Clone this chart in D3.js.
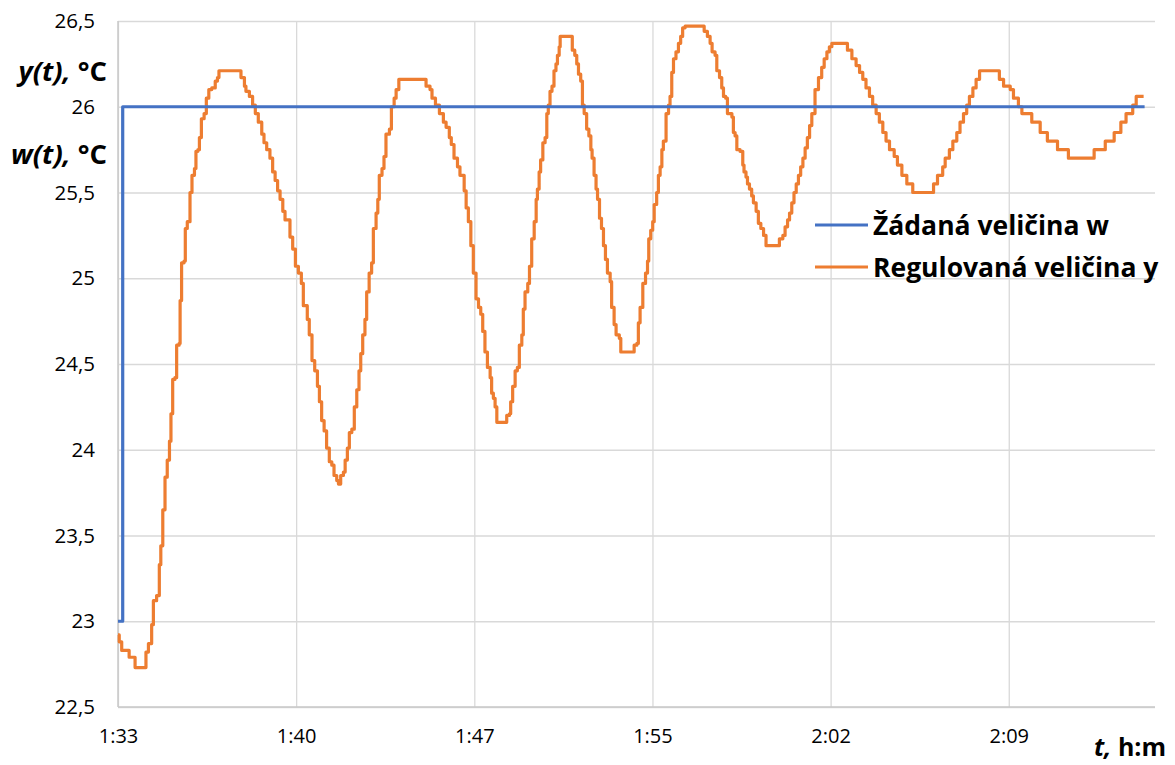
<!DOCTYPE html>
<html>
<head>
<meta charset="utf-8">
<script src="https://cdn.jsdelivr.net/npm/d3@7"></script>
<style>
  html, body { margin: 0; padding: 0; background: #ffffff; }
  svg { display: block; font-family: "Open Sans", "Noto Sans", sans-serif; }
</style>
</head>
<body>
<svg id="chart" width="1175" height="765"></svg>
<script>
// ---- data (time in minutes after 1:33) ----
const xTickValues = [0, 7.2, 14.4, 21.6, 28.8, 36.0];
const xTickLabels = ["1:33", "1:40", "1:47", "1:55", "2:02", "2:09"];
const yTickValues = [22.5, 23, 23.5, 24, 24.5, 25, 25.5, 26, 26.5];
const yTickLabels = ["22,5", "23", "23,5", "24", "24,5", "25", "25,5", "26", "26,5"];

const seriesNames = ["Žádaná veličina w", "Regulovaná veličina y"];
const seriesColors = ["#4472C4", "#ED7D31"];

// setpoint w(t)
const wTimes = [0, 0.19, 41.49];
const wValues = [23, 26, 26];

// controlled variable y(t)
const yTimes = [
  0.00,0.05,0.15,0.45,0.69,1.13,1.23,1.36,1.43,1.56,1.67,1.73,1.81,1.90,1.99,2.08,2.14,2.21,2.30,2.37,
  2.47,2.51,2.57,2.67,2.72,2.80,2.91,2.99,3.09,3.15,3.23,3.29,3.37,3.48,3.57,3.67,3.79,3.93,4.02,4.08,
  4.97,5.11,5.17,5.31,5.44,5.55,5.67,5.81,5.90,6.01,6.14,6.25,6.35,6.45,6.55,6.66,6.75,6.95,7.06,7.17,
  7.29,7.41,7.49,7.65,7.73,7.84,7.95,8.06,8.14,8.23,8.33,8.43,8.54,8.64,8.73,8.84,8.91,9.00,9.11,9.18,
  9.27,9.35,9.45,9.55,9.65,9.74,9.81,9.89,9.98,10.05,10.15,10.25,10.32,10.43,10.50,10.56,10.67,10.75,10.83,10.97,
  11.05,11.16,11.24,11.35,12.45,12.61,12.69,12.83,12.99,13.15,13.26,13.39,13.47,13.58,13.72,13.82,13.99,14.07,14.16,14.26,
  14.36,14.47,14.57,14.66,14.74,14.83,14.93,15.04,15.10,15.17,15.24,15.31,15.71,15.82,15.87,15.95,16.05,16.14,16.22,16.32,
  16.38,16.45,16.56,16.63,16.72,16.82,16.90,16.95,17.02,17.08,17.17,17.26,17.33,17.39,17.46,17.54,17.62,17.70,17.76,17.83,
  17.87,18.36,18.46,18.54,18.61,18.70,18.77,18.84,18.94,19.03,19.11,19.16,19.24,19.32,19.38,19.46,19.54,19.62,19.70,19.78,
  19.89,19.95,20.05,20.13,20.26,20.32,20.86,20.97,21.03,21.10,21.21,21.32,21.40,21.45,21.53,21.61,21.67,21.77,21.84,21.91,
  21.98,22.04,22.15,22.25,22.31,22.38,22.45,22.55,22.65,22.74,22.82,22.92,23.69,23.82,23.93,24.01,24.13,24.20,24.31,24.40,
  24.47,24.56,24.63,24.81,24.87,24.94,25.01,25.14,25.25,25.30,25.38,25.44,25.52,25.61,25.68,25.79,25.88,25.98,26.09,26.19,
  26.73,26.87,26.96,27.06,27.14,27.23,27.32,27.41,27.50,27.59,27.68,27.77,27.86,27.95,28.04,28.17,28.31,28.44,28.54,28.65,
  28.75,28.85,29.48,29.66,29.83,29.97,30.10,30.23,30.37,30.50,30.64,30.77,30.91,31.04,31.18,31.37,31.50,31.68,31.88,32.12,
  32.96,33.12,33.33,33.43,33.60,33.74,33.90,34.03,34.17,34.30,34.41,34.55,34.68,34.82,35.62,35.79,36.06,36.19,36.39,36.53,
  36.93,37.27,37.56,37.97,38.41,39.45,39.90,40.26,40.53,40.74,41.01,41.15,41.45
];
const yValues = [
  22.92,22.88,22.83,22.79,22.73,22.82,22.87,22.98,23.12,23.15,23.33,23.44,23.65,23.84,23.94,24.05,24.21,24.41,24.42,24.61,
  24.62,24.87,25.09,25.10,25.29,25.33,25.50,25.60,25.64,25.74,25.75,25.82,25.93,25.96,26.05,26.10,26.11,26.15,26.17,26.21,
  26.17,26.12,26.09,26.06,26.01,25.96,25.91,25.84,25.79,25.75,25.70,25.62,25.57,25.51,25.46,25.39,25.34,25.24,25.17,25.07,
  25.03,24.97,24.84,24.76,24.67,24.52,24.46,24.37,24.28,24.17,24.11,24.01,23.93,23.91,23.85,23.82,23.80,23.85,23.87,23.94,
  24.01,24.10,24.12,24.25,24.35,24.46,24.56,24.67,24.76,24.92,25.03,25.09,25.29,25.38,25.46,25.60,25.64,25.71,25.84,25.87,
  26.00,26.05,26.10,26.16,26.12,26.10,26.05,26.01,25.96,25.91,25.88,25.82,25.78,25.70,25.65,25.60,25.51,25.41,25.33,25.19,
  25.03,24.88,24.83,24.79,24.69,24.57,24.48,24.42,24.33,24.30,24.25,24.16,24.20,24.21,24.28,24.37,24.46,24.48,24.61,24.67,
  24.82,24.92,24.97,25.07,25.23,25.33,25.46,25.52,25.62,25.69,25.79,25.82,25.96,26.01,26.09,26.12,26.21,26.25,26.30,26.35,
  26.41,26.33,26.30,26.25,26.19,26.15,26.01,25.96,25.87,25.83,25.75,25.70,25.60,25.52,25.46,25.35,25.29,25.19,25.11,25.03,
  24.98,24.83,24.73,24.67,24.65,24.57,24.61,24.62,24.74,24.83,24.97,25.03,25.10,25.23,25.28,25.33,25.43,25.50,25.60,25.65,
  25.75,25.80,25.96,26.01,26.06,26.20,26.28,26.32,26.37,26.41,26.46,26.47,26.44,26.41,26.37,26.32,26.30,26.21,26.17,26.11,
  26.06,26.05,25.96,25.94,25.85,25.83,25.75,25.74,25.66,25.62,25.59,25.55,25.52,25.48,25.44,25.39,25.32,25.29,25.25,25.19,
  25.23,25.25,25.30,25.34,25.38,25.44,25.50,25.55,25.60,25.65,25.70,25.76,25.82,25.89,25.96,26.10,26.17,26.23,26.28,26.32,
  26.35,26.37,26.33,26.28,26.24,26.20,26.16,26.11,26.06,26.01,25.96,25.91,25.85,25.80,25.75,25.71,25.66,25.60,25.55,25.50,
  25.55,25.60,25.65,25.70,25.75,25.80,25.85,25.91,25.96,26.01,26.06,26.11,26.16,26.21,26.16,26.12,26.10,26.05,26.00,25.96,
  25.91,25.85,25.80,25.75,25.70,25.75,25.80,25.85,25.91,25.96,26.01,26.06,26.06
];

// ---- layout ----
const svg = d3.select("#chart");
const plot = { left: 118, right: 1155, top: 21, bottom: 707 };

const x = d3.scaleLinear().domain([0, 41.91]).range([plot.left, plot.right]);
const y = d3.scaleLinear().domain([22.5, 26.5]).range([plot.bottom, plot.top]);

// horizontal gridlines
const yGrid = svg.append("g")
  .attr("transform", `translate(${plot.left},0)`)
  .call(d3.axisLeft(y).tickValues(yTickValues).tickSize(-(plot.right - plot.left)).tickFormat(""));
yGrid.select(".domain").remove();
yGrid.selectAll(".tick line").attr("stroke", "#D9D9D9").attr("stroke-width", 1.3);

// vertical gridlines
const xGrid = svg.append("g")
  .attr("transform", `translate(0,${plot.bottom})`)
  .call(d3.axisBottom(x).tickValues(xTickValues).tickSize(-(plot.bottom - plot.top)).tickFormat(""));
xGrid.select(".domain").remove();
xGrid.selectAll(".tick line").attr("stroke", "#D9D9D9").attr("stroke-width", 1.3);

// axis lines
svg.append("line").attr("x1", plot.left).attr("x2", plot.left).attr("y1", plot.top).attr("y2", plot.bottom)
  .attr("stroke", "#C8C8C8").attr("stroke-width", 1.5);
svg.append("line").attr("x1", plot.left).attr("x2", plot.right).attr("y1", plot.bottom).attr("y2", plot.bottom)
  .attr("stroke", "#C8C8C8").attr("stroke-width", 1.5);

// y tick labels
const yAxis = svg.append("g")
  .attr("transform", `translate(${plot.left},0)`)
  .call(d3.axisLeft(y).tickValues(yTickValues).tickSize(0).tickPadding(23)
    .tickFormat((d, i) => yTickLabels[i]));
yAxis.select(".domain").remove();
yAxis.selectAll("text").attr("font-family", "'Open Sans', sans-serif").attr("font-size", 20.5).attr("fill", "#000");

// x tick labels
const xAxis = svg.append("g")
  .attr("transform", `translate(0,${plot.bottom})`)
  .call(d3.axisBottom(x).tickValues(xTickValues).tickSize(0).tickPadding(22)
    .tickFormat((d, i) => xTickLabels[i]));
xAxis.select(".domain").remove();
xAxis.selectAll("text").attr("font-family", "'Open Sans', sans-serif").attr("font-size", 20).attr("fill", "#000");

// series lines
const wData = wTimes.map((t, i) => [t, wValues[i]]);
const yData = yTimes.map((t, i) => [t, yValues[i]]);
const line = d3.line().x(d => x(d[0])).y(d => y(d[1])).curve(d3.curveStepAfter);

svg.append("path").datum(yData).attr("d", line)
  .attr("fill", "none").attr("stroke", seriesColors[1]).attr("stroke-width", 3.2).attr("stroke-linejoin", "round");
svg.append("path").datum(wData).attr("d", line)
  .attr("fill", "none").attr("stroke", seriesColors[0]).attr("stroke-width", 3.2).attr("stroke-linejoin", "round");

// axis titles
const yT1 = svg.append("text").attr("x", 107).attr("y", 81).attr("text-anchor", "end")
  .attr("font-size", 27.5).attr("font-weight", "bold").attr("fill", "#000");
yT1.append("tspan").attr("font-style", "italic").text("y(t),");
yT1.append("tspan").text(" °C");
const yT2 = svg.append("text").attr("x", 107).attr("y", 164).attr("text-anchor", "end")
  .attr("font-size", 27.5).attr("font-weight", "bold").attr("fill", "#000");
yT2.append("tspan").attr("font-style", "italic").text("w(t),");
yT2.append("tspan").text(" °C");
const xT = svg.append("text").attr("x", 1166).attr("y", 756).attr("text-anchor", "end")
  .attr("font-size", 25).attr("font-weight", "bold").attr("fill", "#000");
xT.append("tspan").attr("font-style", "italic").text("t,");
xT.append("tspan").text(" h:m");

// legend
const legend = svg.append("g");
const legendY = [225, 267];
seriesNames.forEach((name, i) => {
  legend.append("line").attr("x1", 815).attr("x2", 868).attr("y1", legendY[i]).attr("y2", legendY[i])
    .attr("stroke", seriesColors[i]).attr("stroke-width", 3.2);
  legend.append("text").attr("x", 873).attr("y", legendY[i]).attr("dy", "0.36em")
    .attr("font-size", 26.5).attr("font-weight", "bold").attr("fill", "#000").text(name);
});
</script>
</body>
</html>
